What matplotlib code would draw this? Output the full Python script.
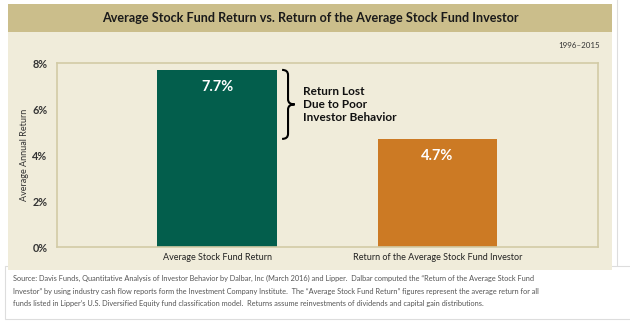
import matplotlib
matplotlib.use('Agg')
import matplotlib.pyplot as plt
from matplotlib.patches import Rectangle, PathPatch
from matplotlib.path import Path

categories = ['Average Stock Fund Return', 'Return of the Average Stock Fund Investor']
values = [7.7, 4.7]
value_labels = ['7.7%', '4.7%']
colors = ['#035E4C', '#CC7A24']
yticks = [0, 2, 4, 6, 8]
ytick_labels = ['0%', '2%', '4%', '6%', '8%']

title = 'Average Stock Fund Return vs. Return of the Average Stock Fund Investor'
period = '1996\u20132015'
note = 'Return Lost\nDue to Poor\nInvestor Behavior'
source = ('Source: Davis Funds, Quantitative Analysis of Investor Behavior by Dalbar, Inc (March 2016) and Lipper.  '
          'Dalbar computed the \u201cReturn of the Average Stock Fund\n'
          'Investor\u201d by using industry cash flow reports form the Investment Company Institute.  '
          'The \u201cAverage Stock Fund Return\u201d figures represent the average return for all\n'
          'funds listed in Lipper\u2019s U.S. Diversified Equity fund classification model.  '
          'Returns assume reinvestments of dividends and capital gain distributions.')

W, H = 630, 322
plt.rcParams['font.family'] = ['Lato', 'DejaVu Sans']

fig = plt.figure(figsize=(W / 100, H / 100), dpi=100)
fig.patch.set_facecolor('white')


def px(x, y, w, h, **kw):
    # rectangle given in pixel coords from the top-left corner
    r = Rectangle((x / W, 1 - (y + h) / H), w / W, h / H, transform=fig.transFigure,
                  zorder=-10, **kw)
    fig.patches.append(r)


# outer boxes
px(617, -2, 30, 272, facecolor='white', edgecolor='#DDDDDD', lw=0.8)
px(5, 266, 640, 53, facecolor='white', edgecolor='#DDDDDD', lw=0.8)
# panel body and title band
px(8, 4, 604, 266, facecolor='#F0ECDA', edgecolor='none')
px(8, 4, 604, 28, facecolor='#CBBE8B', edgecolor='none')

fig.text(310 / W, 1 - 18.5 / H, title, ha='center', va='center', fontsize=9.1,
         fontweight='bold', color='#1A1A1A')
fig.text(600 / W, 1 - 46 / H, period, ha='right', va='center', fontsize=5.8, color='#333333')

ax = fig.add_axes([57 / W, 1 - 247 / H, (598 - 57) / W, (247 - 63) / H])
ax.set_facecolor('#F0ECDA')
x = list(range(len(values)))
ax.bar(x, values, width=0.544, color=colors, zorder=2)
ax.set_xlim(-0.726, 1.728)
ax.set_ylim(0, 8)
ax.set_yticks(yticks)
ax.set_yticklabels(ytick_labels, fontsize=7.8, fontweight='bold', color='#333333')
ax.set_xticks(x)
ax.set_xticklabels(categories, fontsize=6.5, color='#222222')
ax.tick_params(length=0, pad=4)
ax.tick_params(axis='y', pad=7)
for s in ax.spines.values():
    s.set_color('#D2CBA6')
    s.set_linewidth(1.2)
ax.set_ylabel('Average Annual Return', fontsize=6.5, color='#333333', labelpad=2)

for xi, v, lab in zip(x, values, value_labels):
    ax.text(xi, v - 0.74, lab, ha='center', va='center', color='white',
            fontsize=10.5, fontweight='bold')

# brace between the two bar tops
top, bot = values[0], values[1]
mid = (top + bot) / 2
xa, xm, xt = 0.295, 0.322, 0.352
d = 0.22
verts = [(xa, top), (xm, top), (xm, top - d),
         (xm, mid + d),
         (xm, mid), (xt, mid),
         (xm, mid), (xm, mid - d),
         (xm, bot + d),
         (xm, bot), (xa, bot)]
codes = [Path.MOVETO, Path.CURVE3, Path.CURVE3,
         Path.LINETO,
         Path.CURVE3, Path.CURVE3,
         Path.CURVE3, Path.CURVE3,
         Path.LINETO,
         Path.CURVE3, Path.CURVE3]
ax.add_patch(PathPatch(Path(verts, codes), facecolor='none', edgecolor='black', lw=1.5, zorder=3))
ax.text(0.39, mid, note, ha='left', va='center', fontsize=8.5, fontweight='bold',
        color='#111111', linespacing=1.25)

fig.text(13 / W, 1 - 291 / H, source, ha='left', va='center', fontsize=5.3,
         color='#555555', linespacing=1.95)

fig.savefig('out.png', dpi=100)
